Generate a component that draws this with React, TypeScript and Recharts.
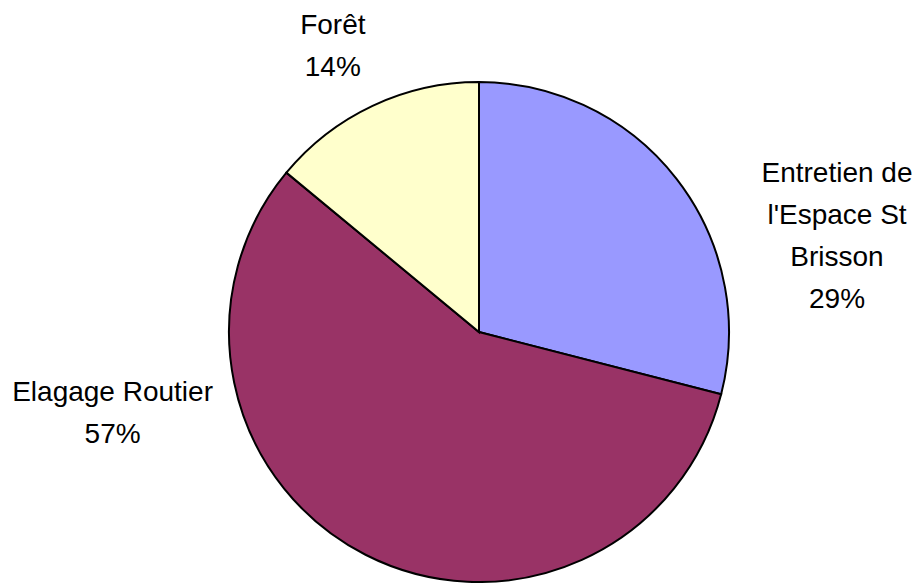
import { PieChart, Pie, Cell } from "recharts"

const categories = ["Entretien de l'Espace St Brisson", "Elagage Routier", "Forêt"]
const values = [29, 57, 14]
const labelLines = [["Entretien de", "l'Espace St", "Brisson"], ["Elagage Routier"], ["Forêt"]]

const colors = ["#9999FF", "#993366", "#FFFFCC"]
// label placement around the pie: angle in degrees (counter-clockwise from 3 o'clock) and distance as a factor of the radius
const labelPlacement = [
  { angle: 15.2, dist: 1.484 },
  { angle: 192.3, dist: 1.5 },
  { angle: 117, dist: 1.288 },
]

const data = categories.map((name, i) => ({ name, value: values[i] }))

const FONT = "'Liberation Sans', Arial, sans-serif"
const LINE = 42

function renderLabel(props: any) {
  const { cx, cy, outerRadius, index, percent } = props
  const place = labelPlacement[index]
  const rad = (place.angle * Math.PI) / 180
  const x = cx + outerRadius * place.dist * Math.cos(rad)
  const y = cy - outerRadius * place.dist * Math.sin(rad)
  const lines = [...labelLines[index], `${Math.round(percent * 100)}%`]
  const firstBaseline = y - ((lines.length - 1) * LINE) / 2 + 10
  return (
    <text
      x={x}
      y={firstBaseline}
      textAnchor="middle"
      fill="#000"
      fontFamily={FONT}
      fontSize={28}
    >
      {lines.map((l, i) => (
        <tspan key={i} x={x} y={firstBaseline + i * LINE}>
          {l}
        </tspan>
      ))}
    </text>
  )
}

export default function App() {
  return (
    <div style={{ position: "absolute", left: 0, top: 0, width: 923, height: 583, background: "#fff" }}>
      <PieChart width={923} height={583} margin={{ top: 0, right: 0, bottom: 0, left: 0 }}>
        <Pie
          data={data}
          dataKey="value"
          nameKey="name"
          cx={479}
          cy={332}
          outerRadius={250}
          startAngle={90}
          endAngle={-270}
          stroke="#000"
          strokeWidth={2}
          label={renderLabel}
          labelLine={false}
          isAnimationActive={false}
        >
          {data.map((d, i) => (
            <Cell key={d.name} fill={colors[i]} />
          ))}
        </Pie>
      </PieChart>
    </div>
  )
}
